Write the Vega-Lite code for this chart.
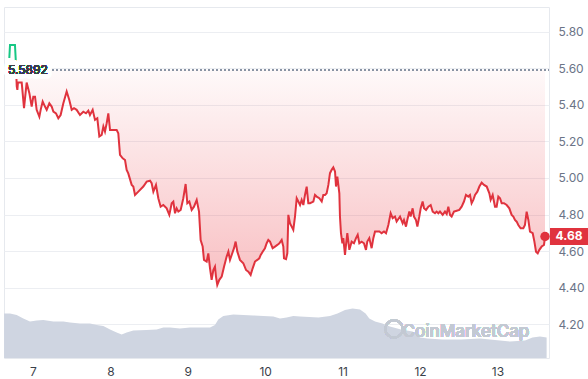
{
  "$schema": "https://vega.github.io/schema/vega-lite/v6.json",
  "width": 545,
  "height": 351,
  "autosize": "none",
  "padding": {"left": 4, "top": 7, "right": 39, "bottom": 21},
  "background": "#ffffff",
  "config": {
    "font": "Inter",
    "view": {"stroke": "#e6e9ee", "strokeWidth": 1}
  },
  "datasets": {
    "price": [
      {"t":6.694,"price":5.655},{"t":6.703,"price":5.727},{"t":6.767,"price":5.727},{"t":6.776,"price":5.655},
      {"t":6.790,"price":5.50},{"t":6.798,"price":5.481},{"t":6.805,"price":5.521},{"t":6.854,"price":5.521},
      {"t":6.884,"price":5.381},{"t":6.918,"price":5.521},{"t":6.953,"price":5.463},{"t":6.983,"price":5.390},
      {"t":7.004,"price":5.444},{"t":7.026,"price":5.444},{"t":7.047,"price":5.372},{"t":7.082,"price":5.335},
      {"t":7.099,"price":5.372},{"t":7.125,"price":5.417},{"t":7.155,"price":5.390},{"t":7.177,"price":5.372},
      {"t":7.211,"price":5.408},{"t":7.241,"price":5.390},{"t":7.263,"price":5.362},{"t":7.297,"price":5.353},
      {"t":7.327,"price":5.326},{"t":7.357,"price":5.344},{"t":7.392,"price":5.408},{"t":7.435,"price":5.472},
      {"t":7.469,"price":5.426},{"t":7.500,"price":5.372},{"t":7.530,"price":5.381},{"t":7.564,"price":5.372},
      {"t":7.607,"price":5.344},{"t":7.650,"price":5.362},{"t":7.685,"price":5.353},{"t":7.715,"price":5.368},
      {"t":7.736,"price":5.344},{"t":7.771,"price":5.372},{"t":7.801,"price":5.317},{"t":7.831,"price":5.326},
      {"t":7.857,"price":5.226},{"t":7.887,"price":5.235},{"t":7.909,"price":5.281},{"t":7.930,"price":5.253},
      {"t":7.952,"price":5.299},{"t":7.973,"price":5.353},{"t":7.995,"price":5.262},{"t":8.038,"price":5.262},
      {"t":8.081,"price":5.262},{"t":8.102,"price":5.244},{"t":8.124,"price":5.126},{"t":8.159,"price":5.107},
      {"t":8.189,"price":5.098},{"t":8.210,"price":5.044},{"t":8.231,"price":5.025},{"t":8.275,"price":4.962},
      {"t":8.296,"price":4.953},{"t":8.318,"price":4.907},{"t":8.361,"price":4.925},{"t":8.425,"price":4.953},
      {"t":8.469,"price":4.980},{"t":8.512,"price":4.985},{"t":8.533,"price":4.971},{"t":8.555,"price":4.925},
      {"t":8.589,"price":4.962},{"t":8.619,"price":4.889},{"t":8.649,"price":4.843},{"t":8.684,"price":4.852},
      {"t":8.727,"price":4.834},{"t":8.761,"price":4.798},{"t":8.792,"price":4.862},{"t":8.813,"price":4.871},
      {"t":8.835,"price":4.807},{"t":8.856,"price":4.834},{"t":8.878,"price":4.816},{"t":8.908,"price":4.825},
      {"t":8.942,"price":4.889},{"t":8.972,"price":4.967},{"t":8.994,"price":4.862},{"t":9.020,"price":4.871},
      {"t":9.050,"price":4.825},{"t":9.080,"price":4.843},{"t":9.115,"price":4.880},{"t":9.145,"price":4.816},
      {"t":9.166,"price":4.661},{"t":9.192,"price":4.625},{"t":9.209,"price":4.552},{"t":9.244,"price":4.543},
      {"t":9.265,"price":4.588},{"t":9.287,"price":4.506},{"t":9.308,"price":4.443},{"t":9.330,"price":4.497},
      {"t":9.351,"price":4.515},{"t":9.364,"price":4.461},{"t":9.381,"price":4.415},{"t":9.407,"price":4.443},
      {"t":9.438,"price":4.461},{"t":9.468,"price":4.515},{"t":9.502,"price":4.570},{"t":9.524,"price":4.597},
      {"t":9.545,"price":4.552},{"t":9.567,"price":4.579},{"t":9.597,"price":4.616},{"t":9.618,"price":4.652},
      {"t":9.640,"price":4.597},{"t":9.674,"price":4.552},{"t":9.717,"price":4.534},{"t":9.752,"price":4.497},
      {"t":9.782,"price":4.488},{"t":9.812,"price":4.470},{"t":9.838,"price":4.506},{"t":9.868,"price":4.543},
      {"t":9.898,"price":4.552},{"t":9.924,"price":4.561},{"t":9.942,"price":4.579},{"t":9.967,"price":4.597},
      {"t":9.997,"price":4.616},{"t":10.019,"price":4.643},{"t":10.040,"price":4.661},{"t":10.062,"price":4.652},
      {"t":10.096,"price":4.616},{"t":10.127,"price":4.625},{"t":10.157,"price":4.634},{"t":10.183,"price":4.643},
      {"t":10.213,"price":4.661},{"t":10.234,"price":4.625},{"t":10.243,"price":4.561},{"t":10.269,"price":4.556},
      {"t":10.286,"price":4.588},{"t":10.299,"price":4.798},{"t":10.320,"price":4.752},{"t":10.342,"price":4.734},
      {"t":10.363,"price":4.716},{"t":10.385,"price":4.789},{"t":10.407,"price":4.889},{"t":10.428,"price":4.871},
      {"t":10.450,"price":4.852},{"t":10.471,"price":4.880},{"t":10.493,"price":4.852},{"t":10.514,"price":4.907},
      {"t":10.536,"price":4.952},{"t":10.557,"price":4.862},{"t":10.579,"price":4.862},{"t":10.622,"price":4.871},
      {"t":10.643,"price":4.907},{"t":10.665,"price":4.898},{"t":10.699,"price":4.889},{"t":10.730,"price":4.871},
      {"t":10.751,"price":4.907},{"t":10.773,"price":4.907},{"t":10.794,"price":4.916},{"t":10.816,"price":4.962},
      {"t":10.837,"price":5.026},{"t":10.859,"price":5.044},{"t":10.880,"price":5.058},{"t":10.902,"price":5.035},
      {"t":10.915,"price":4.953},{"t":10.932,"price":5.007},{"t":10.958,"price":4.916},{"t":10.966,"price":4.789},
      {"t":10.979,"price":4.698},{"t":10.997,"price":4.643},{"t":11.009,"price":4.671},{"t":11.031,"price":4.579},
      {"t":11.044,"price":4.634},{"t":11.061,"price":4.698},{"t":11.087,"price":4.607},{"t":11.117,"price":4.652},
      {"t":11.147,"price":4.643},{"t":11.173,"price":4.671},{"t":11.195,"price":4.689},{"t":11.216,"price":4.643},
      {"t":11.246,"price":4.652},{"t":11.276,"price":4.643},{"t":11.302,"price":4.607},{"t":11.319,"price":4.652},
      {"t":11.345,"price":4.671},{"t":11.375,"price":4.616},{"t":11.397,"price":4.671},{"t":11.419,"price":4.707},
      {"t":11.449,"price":4.707},{"t":11.475,"price":4.707},{"t":11.504,"price":4.698},{"t":11.535,"price":4.707},
      {"t":11.561,"price":4.698},{"t":11.591,"price":4.743},{"t":11.621,"price":4.807},{"t":11.647,"price":4.780},
      {"t":11.677,"price":4.789},{"t":11.698,"price":4.762},{"t":11.742,"price":4.789},{"t":11.776,"price":4.752},
      {"t":11.793,"price":4.770},{"t":11.819,"price":4.734},{"t":11.836,"price":4.770},{"t":11.862,"price":4.816},
      {"t":11.879,"price":4.789},{"t":11.905,"price":4.834},{"t":11.922,"price":4.789},{"t":11.948,"price":4.770},
      {"t":11.966,"price":4.734},{"t":11.991,"price":4.789},{"t":12.009,"price":4.834},{"t":12.034,"price":4.871},
      {"t":12.052,"price":4.834},{"t":12.078,"price":4.825},{"t":12.108,"price":4.843},{"t":12.138,"price":4.852},
      {"t":12.164,"price":4.816},{"t":12.194,"price":4.807},{"t":12.215,"price":4.816},{"t":12.237,"price":4.807},
      {"t":12.258,"price":4.816},{"t":12.293,"price":4.798},{"t":12.323,"price":4.816},{"t":12.345,"price":4.803},
      {"t":12.366,"price":4.843},{"t":12.388,"price":4.798},{"t":12.409,"price":4.789},{"t":12.439,"price":4.816},
      {"t":12.474,"price":4.821},{"t":12.508,"price":4.825},{"t":12.538,"price":4.843},{"t":12.568,"price":4.871},
      {"t":12.594,"price":4.907},{"t":12.624,"price":4.898},{"t":12.646,"price":4.907},{"t":12.667,"price":4.862},
      {"t":12.689,"price":4.880},{"t":12.711,"price":4.907},{"t":12.741,"price":4.925},{"t":12.767,"price":4.953},
      {"t":12.797,"price":4.974},{"t":12.827,"price":4.962},{"t":12.862,"price":4.953},{"t":12.896,"price":4.916},
      {"t":12.913,"price":4.880},{"t":12.939,"price":4.907},{"t":12.969,"price":4.843},{"t":12.990,"price":4.843},
      {"t":13.012,"price":4.898},{"t":13.034,"price":4.889},{"t":13.055,"price":4.862},{"t":13.085,"price":4.862},
      {"t":13.120,"price":4.852},{"t":13.154,"price":4.834},{"t":13.184,"price":4.798},{"t":13.206,"price":4.789},
      {"t":13.227,"price":4.770},{"t":13.249,"price":4.761},{"t":13.270,"price":4.743},{"t":13.300,"price":4.725},
      {"t":13.335,"price":4.725},{"t":13.356,"price":4.743},{"t":13.378,"price":4.816},{"t":13.400,"price":4.770},
      {"t":13.421,"price":4.707},{"t":13.456,"price":4.698},{"t":13.478,"price":4.652},{"t":13.499,"price":4.597},
      {"t":13.521,"price":4.588},{"t":13.542,"price":4.607},{"t":13.572,"price":4.625},{"t":13.602,"price":4.634},
      {"t":13.615,"price":4.680}
    ],
    "volume": [
      {"t":6.626,"volume":22.3},{"t":6.703,"volume":22.3},{"t":6.789,"volume":21.5},{"t":6.875,"volume":19.8},
      {"t":6.961,"volume":18.2},{"t":7.047,"volume":18.7},{"t":7.133,"volume":19.0},{"t":7.263,"volume":18.2},
      {"t":7.392,"volume":18.2},{"t":7.478,"volume":17.7},{"t":7.607,"volume":17.3},{"t":7.736,"volume":17.3},
      {"t":7.823,"volume":16.5},{"t":7.909,"volume":16.0},{"t":7.995,"volume":14.3},{"t":8.081,"volume":12.7},
      {"t":8.146,"volume":11.8},{"t":8.210,"volume":12.7},{"t":8.296,"volume":13.7},{"t":8.469,"volume":14.0},
      {"t":8.598,"volume":14.3},{"t":8.684,"volume":15.3},{"t":8.770,"volume":15.3},{"t":8.899,"volume":14.8},
      {"t":9.028,"volume":15.3},{"t":9.158,"volume":15.2},{"t":9.287,"volume":15.3},{"t":9.351,"volume":16.5},
      {"t":9.394,"volume":19.3},{"t":9.459,"volume":21.0},{"t":9.588,"volume":21.7},{"t":9.717,"volume":21.5},
      {"t":9.847,"volume":21.3},{"t":9.976,"volume":21.0},{"t":10.105,"volume":20.7},{"t":10.191,"volume":19.8},
      {"t":10.277,"volume":20.3},{"t":10.363,"volume":21.0},{"t":10.450,"volume":20.7},{"t":10.688,"volume":20.3},
      {"t":10.837,"volume":21.0},{"t":10.934,"volume":22.3},{"t":11.031,"volume":24.0},{"t":11.128,"volume":24.8},
      {"t":11.225,"volume":24.3},{"t":11.297,"volume":22.3},{"t":11.345,"volume":19.8},{"t":11.419,"volume":18.2},
      {"t":11.515,"volume":17.3},{"t":11.612,"volume":15.7},{"t":11.754,"volume":14.3},{"t":11.903,"volume":13.2},
      {"t":12.000,"volume":10.3},{"t":12.097,"volume":9.8},{"t":12.291,"volume":9.3},{"t":12.530,"volume":9.3},
      {"t":12.775,"volume":9.8},{"t":12.969,"volume":9.0},{"t":13.163,"volume":8.2},{"t":13.357,"volume":8.7},
      {"t":13.453,"volume":10.3},{"t":13.550,"volume":10.7},{"t":13.636,"volume":10.3}
    ],
    "last": [{"t":13.615,"price":4.68}]
  },
  "resolve": {"scale": {"y": "independent"}},
  "layer": [
    {
      "data": {"name": "volume"},
      "mark": {"type": "area", "color": "#cfd5e1", "opacity": 1, "interpolate": "linear"},
      "encoding": {
        "x": {"field": "t", "type": "quantitative", "scale": {"domain": [6.6253, 13.6667], "nice": false, "zero": false},
              "axis": {"values": [7,8,9,10,11,12,13], "format": "d", "title": null, "grid": false, "ticks": false, "domain": false,
                       "labelPadding": 8, "labelFontSize": 12, "labelColor": "#3a3f4a", "labelFont": "Inter"}},
        "y": {"field": "volume", "type": "quantitative", "scale": {"domain": [0, 175.5], "nice": false}, "axis": null}
      }
    },
    {
      "layer": [
        {
          "data": {"name": "price"},
          "mark": {"type": "area", "interpolate": "linear",
                   "fill": {"gradient": "linear", "x1": 0, "y1": 0, "x2": 0, "y2": 1,
                            "stops": [{"offset": 0, "color": "rgba(234,57,67,0.0)"},
                                      {"offset": 0.11, "color": "rgba(234,57,67,0.03)"},
                                      {"offset": 1, "color": "rgba(234,57,67,0.32)"}]}},
          "encoding": {
            "x": {"field": "t", "type": "quantitative"},
            "y": {"field": "price", "type": "quantitative", "scale": {"domain": [4.016, 5.934], "nice": false, "zero": false},
                  "axis": {"orient": "right", "values": [4.2,4.4,4.6,4.8,5.0,5.2,5.4,5.6,5.8], "format": ".2f", "title": null,
                           "grid": true, "gridColor": "#eceef2", "ticks": false, "domain": false, "labelPadding": 9,
                           "labelFontSize": 12, "labelColor": "#6b7487", "labelFont": "Inter"}},
            "y2": {"datum": 5.5892}
          }
        },
        {
          "data": {"name": "price"},
          "mark": {"type": "rule", "stroke": "#8a93a3", "strokeDash": [1, 3], "strokeWidth": 1},
          "encoding": {"y": {"datum": 5.5892}, "x": {"datum": 7.2}, "x2": {"datum": 13.6667}}
        },
        {
          "data": {"name": "price"},
          "mark": {"type": "line", "strokeWidth": 2, "interpolate": "linear",
                   "stroke": {"gradient": "linear", "x1": 0, "y1": 0, "x2": 0, "y2": 1,
                              "stops": [{"offset": 0, "color": "#16c784"}, {"offset": 0.108, "color": "#16c784"},
                                        {"offset": 0.108, "color": "#e0333e"}, {"offset": 1, "color": "#e0333e"}]}},
          "encoding": {
            "x": {"field": "t", "type": "quantitative"},
            "y": {"field": "price", "type": "quantitative"}
          }
        },
        {
          "data": {"name": "price"},
          "mark": {"type": "text", "text": "5.5892", "align": "left", "baseline": "middle", "fontSize": 12, "color": "#ffffff", "stroke": "#ffffff", "strokeWidth": 9, "strokeJoin": "round", "font": "Inter"},
          "encoding": {"x": {"datum": 6.677}, "y": {"datum": 5.5892}}
        },
        {
          "data": {"name": "price"},
          "mark": {"type": "text", "text": "5.5892", "align": "left", "baseline": "middle", "fontSize": 12, "color": "#3a3f4a", "font": "Inter"},
          "encoding": {"x": {"datum": 6.677}, "y": {"datum": 5.5892}}
        },
        {
          "data": {"name": "price"},
          "mark": {"type": "point", "shape": "circle", "filled": false, "stroke": "#c3c9d3", "strokeWidth": 2, "size": 300, "opacity": 0.8},
          "encoding": {"x": {"datum": 11.664}, "y": {"datum": 4.175}}
        },
        {
          "data": {"name": "price"},
          "mark": {"type": "text", "text": "CoinMarketCap", "align": "center", "baseline": "middle", "fontSize": 17, "fontWeight": 500, "color": "#c3c9d3", "opacity": 0.85, "font": "Inter"},
          "encoding": {"x": {"datum": 12.594}, "y": {"datum": 4.158}}
        },
        {
          "data": {"name": "last"},
          "mark": {"type": "point", "shape": "circle", "filled": true, "color": "#e0333e", "opacity": 1, "size": 90},
          "encoding": {"x": {"field": "t", "type": "quantitative"}, "y": {"field": "price", "type": "quantitative"}}
        },
        {
          "data": {"name": "last"},
          "mark": {"type": "point", "shape": "M-1,-0.447L1,-0.447L1,0.447L-1,0.447Z", "filled": true, "color": "#e0333e", "opacity": 1, "size": 1444, "xOffset": 24},
          "encoding": {"x": {"field": "t", "type": "quantitative"}, "y": {"field": "price", "type": "quantitative"}}
        },
        {
          "data": {"name": "last"},
          "mark": {"type": "text", "align": "center", "baseline": "middle", "dx": 24, "fontSize": 12, "fontWeight": "bold", "color": "#ffffff", "font": "Inter"},
          "encoding": {"x": {"field": "t", "type": "quantitative"}, "y": {"field": "price", "type": "quantitative"},
                       "text": {"field": "price", "type": "quantitative", "format": ".2f"}}
        }
      ]
    }
  ]
}
